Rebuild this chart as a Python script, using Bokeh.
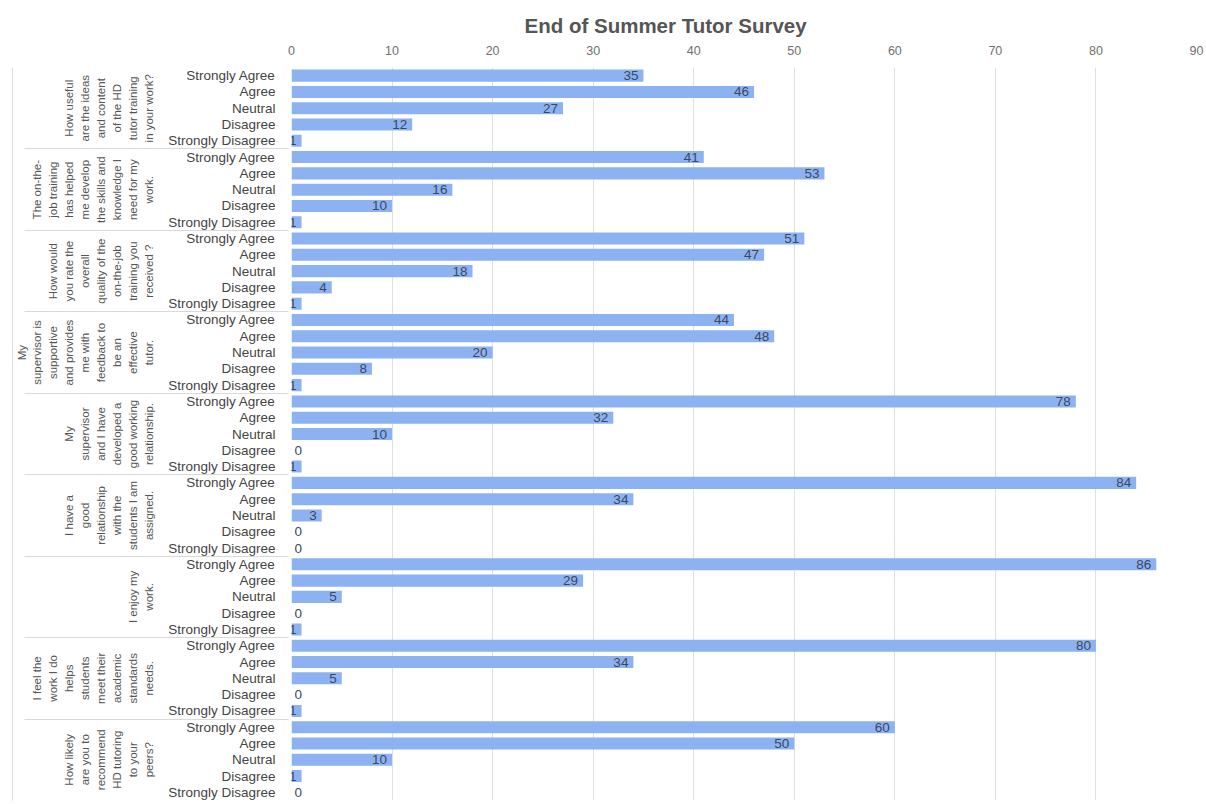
from bokeh.plotting import figure
from bokeh.models import FactorRange, Range1d, ColumnDataSource, FixedTicker, CategoricalAxis
from bokeh.core.properties import value
from bokeh.embed import file_html
from bokeh.resources import INLINE

questions = [
    "How useful\nare the ideas\nand content\nof the HD\ntutor training\nin your work?",
    "The on-the-\njob training\nhas helped\nme develop\nthe skills and\nknowledge I\nneed for my\nwork.",
    "How would\nyou rate the\noverall\nquality of the\non-the-job\ntraining you\nreceived ?",
    "My\nsupervisor is\nsupportive\nand provides\nme with\nfeedback to\nbe an\neffective\ntutor.",
    "My\nsupervisor\nand I have\ndeveloped a\ngood working\nrelationship.",
    "I have a\ngood\nrelationship\nwith the\nstudents I am\nassigned.",
    "I enjoy my\nwork.",
    "I feel the\nwork I do\nhelps\nstudents\nmeet their\nacademic\nstandards\nneeds.",
    "How likely\nare you to\nrecommend\nHD tutoring\nto your\npeers?",
]
responses = ["Strongly Agree", "Agree", "Neutral", "Disagree", "Strongly Disagree"]

q1 = [35, 46, 27, 12, 1]
q2 = [41, 53, 16, 10, 1]
q3 = [51, 47, 18, 4, 1]
q4 = [44, 48, 20, 8, 1]
q5 = [78, 32, 10, 0, 1]
q6 = [84, 34, 3, 0, 0]
q7 = [86, 29, 5, 0, 1]
q8 = [80, 34, 5, 0, 1]
q9 = [60, 50, 10, 1, 0]
counts = [q1, q2, q3, q4, q5, q6, q7, q8, q9]

x_ticks = [0, 10, 20, 30, 40, 50, 60, 70, 80, 90]

factors, vals = [], []
for q, row in zip(questions, counts):
    for r, v in zip(responses, row):
        factors.append((q, r))
        vals.append(v)

rev_factors = list(reversed(factors))

src = ColumnDataSource(dict(y=factors, v=vals))
nz = [i for i, v in enumerate(vals) if v > 0]
zz = [i for i, v in enumerate(vals) if v == 0]
src_nz = ColumnDataSource(dict(y=[factors[i] for i in nz], v=[vals[i] for i in nz], t=[str(vals[i]) for i in nz]))
src_z = ColumnDataSource(dict(y=[factors[i] for i in zz], v=[vals[i] for i in zz], t=[str(vals[i]) for i in zz]))

FONT = "Liberation Sans"

p = figure(width=1206, height=804, output_backend="svg", toolbar_location=None,
           y_range=FactorRange(*rev_factors, group_padding=0, factor_padding=0, range_padding=0),
           x_range=Range1d(0, 90), x_axis_location="above",
           min_border_left=291, min_border_right=10, min_border_top=67, min_border_bottom=4,
           title="End of Summer Tutor Survey")

p.hbar(y="y", right="v", left=0, height=0.74, source=src, fill_color="#8db2f1", line_color=None)
p.text(x="v", y="y", text="t", source=src_nz, text_align="right", text_baseline="middle",
       x_offset=-5, text_font=value(FONT), text_font_size="13.5px", text_color="#3a4860")
p.text(x="v", y="y", text="t", source=src_z, text_align="left", text_baseline="middle",
       x_offset=3, text_font=value(FONT), text_font_size="13.5px", text_color="#3a4860")

p.title.text_font = FONT
p.title.text_font_size = "20.5px"
p.title.text_font_style = "bold"
p.title.text_color = "#555555"
p.title.align = "left"
p.title.offset = 233
p.title.standoff = 11

xa = p.xaxis[0]
xa.ticker = FixedTicker(ticks=x_ticks)
xa.axis_line_color = None
xa.major_tick_line_color = None
xa.minor_tick_line_color = None
xa.major_label_text_font = FONT
xa.major_label_text_font_size = "12.5px"
xa.major_label_text_color = "#707070"
xa.major_label_standoff = 7

ya = p.yaxis[0]
ya.axis_line_color = None
ya.major_tick_line_color = None
ya.major_label_text_font = FONT
ya.major_label_text_font_size = "13.5px"
ya.major_label_text_color = "#444444"
ya.major_label_standoff = 10
ya.group_text_font = FONT
ya.group_text_font_size = "11.5px"
ya.group_text_font_style = "normal"
ya.group_text_color = "#555555"
ya.group_text_line_height = 1.33
ya.group_label_orientation = "vertical"
ya.separator_line_color = "#d9d9d9"
ya.separator_line_width = 1

# thin border line at the outer left edge of the label area (label-less axis)
edge = CategoricalAxis(axis_line_color="#dcdcdc", axis_line_width=1,
                       major_tick_line_color=None, minor_tick_line_color=None,
                       major_label_text_font_size="0px", major_label_text_color=None,
                       major_label_standoff=0,
                       group_text_font_size="0px", group_text_color=None,
                       separator_line_color=None)
p.add_layout(edge, "left")

p.xgrid.grid_line_color = "#e0e0e0"
p.xgrid.ticker = FixedTicker(ticks=x_ticks)
p.ygrid.grid_line_color = None
p.outline_line_color = None

open("out.html", "w").write(file_html(p, INLINE))
